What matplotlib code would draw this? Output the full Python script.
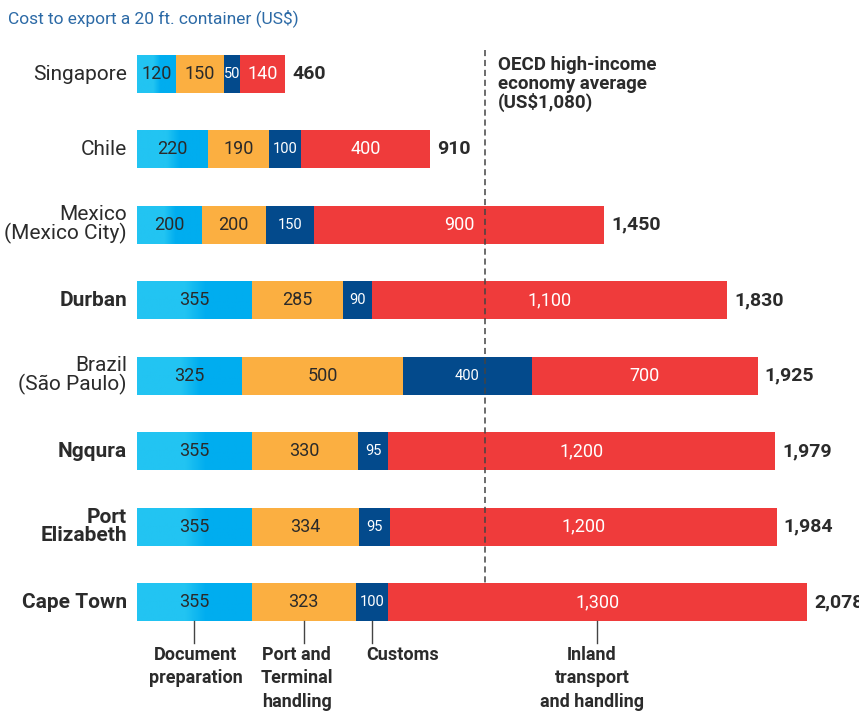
import matplotlib

matplotlib.use("Agg")
import matplotlib.pyplot as plt
import numpy as np
from matplotlib.colors import LinearSegmentedColormap

plt.rcParams["font.family"] = ["Roboto", "DejaVu Sans"]

PLACES = ["Singapore", "Chile", "Mexico\n(Mexico City)", "Durban", "Brazil\n(São Paulo)",
          "Ngqura", "Port\nElizabeth", "Cape Town"]
BOLD_PLACES = {"Durban", "Ngqura", "Port\nElizabeth", "Cape Town"}
DOCUMENT = [120, 220, 200, 355, 325, 355, 355, 355]
PORT = [150, 190, 200, 285, 500, 330, 334, 323]
CUSTOMS = [50, 100, 150, 90, 400, 95, 95, 100]
INLAND = [140, 400, 900, 1100, 700, 1200, 1200, 1300]
TOTALS = [460, 910, 1450, 1830, 1925, 1979, 1984, 2078]
OECD_AVG = 1080
SEGMENT_NAMES = ["Document\npreparation", "Port and\nTerminal\nhandling", "Customs",
                 "Inland\ntransport\nand handling"]

BLUE_LIGHT = "#22c4f2"
BLUE = "#00adef"
ORANGE = "#fbaf41"
NAVY = "#034a8c"
RED = "#ef3b3b"
TEXT = "#2b2b2b"

PX_PER_UNIT = 0.3224  # horizontal pixels per US$
X0_PX = 137
ROW0_PX, ROW_STEP_PX = 74, 75.43
W, H = 859, 714


def main() -> None:
    fig = plt.figure(figsize=(W / 100, H / 100), dpi=100)
    ax = fig.add_axes([0, 0, 1, 1])
    ax.axis("off")

    y = np.arange(len(PLACES))
    h = 0.504
    segments = [(DOCUMENT, BLUE, "#2a2a2a", 13), (PORT, ORANGE, "#2a2a2a", 13),
                (CUSTOMS, NAVY, "white", 10.5), (INLAND, RED, "white", 13)]
    grad = LinearSegmentedColormap.from_list(
        "doc", [(0, BLUE_LIGHT), (0.42, BLUE_LIGHT), (0.6, BLUE), (1, BLUE)])

    left = np.zeros(len(PLACES))
    bottom_bars = []
    for vals, color, tcolor, fs in segments:
        vals = np.array(vals, dtype=float)
        bars = ax.barh(y, vals, left=left, height=h, color=color, linewidth=0)
        if color == BLUE:
            # gradient fill for the document-preparation segment
            for b in bars:
                im = ax.imshow(np.linspace(0, 1, 100).reshape(1, -1), cmap=grad, aspect="auto",
                               extent=(b.get_x(), b.get_x() + b.get_width(),
                                       b.get_y() + b.get_height(), b.get_y()),
                               zorder=b.get_zorder() + 0.1)
                im.set_clip_path(b)
        for yi, l, v in zip(y, left, vals):
            ax.text(l + v / 2, yi, f"{int(v):,}", ha="center", va="center",
                    color=tcolor, fontsize=fs, zorder=5)
        bottom_bars.append((left[-1], vals[-1]))
        left = left + vals

    for yi, tot, end in zip(y, TOTALS, left):
        ax.text(end + 7 / PX_PER_UNIT, yi, f"{tot:,}", ha="left", va="center",
                fontsize=14, fontweight="bold", color=TEXT, clip_on=False)

    for yi, name in zip(y, PLACES):
        bold = name in BOLD_PLACES
        ax.text(-10 / PX_PER_UNIT, yi, name, ha="right", va="center", fontsize=15,
                fontweight="bold" if bold else "normal", color=TEXT, linespacing=0.95)

    # OECD average reference line
    ax.plot([OECD_AVG, OECD_AVG], [-0.32, len(PLACES) - 1 - h / 2], color="#444444",
            lw=1.1, ls=(0, (4, 2.5)), zorder=1)
    ax.annotate("OECD high-income\neconomy average\n(US$1,080)", (OECD_AVG, -0.24),
                xytext=(9, 0), textcoords="offset points", ha="left", va="top",
                fontsize=13.5, fontweight="bold", color=TEXT, linespacing=1.05)

    # segment legend hanging below the last bar
    last = len(PLACES) - 1
    label_shift = [1, -5, 22, -4]  # points
    for (l, v), name, dx in zip(bottom_bars, SEGMENT_NAMES, label_shift):
        xm = l + v / 2
        ax.plot([xm, xm], [last + h / 2, last + 0.54], color="#444444", lw=1)
        ax.annotate(name, (xm, last + 0.58), xytext=(dx, 0), textcoords="offset points",
                    ha="center", va="top", fontsize=13, fontweight="semibold",
                    color=TEXT, linespacing=1.4, annotation_clip=False)

    ax.set_xlim(-X0_PX / PX_PER_UNIT, (W - X0_PX) / PX_PER_UNIT)
    ax.set_ylim((H - ROW0_PX) / ROW_STEP_PX, -ROW0_PX / ROW_STEP_PX)

    fig.text(8 / W, 1 - 18 / H, "Cost to export a 20 ft. container (US$)", ha="left",
             va="center", fontsize=12.5, color="#2c6aa6")

    fig.savefig("out.png", dpi=100)
    plt.close(fig)


if __name__ == "__main__":
    main()
